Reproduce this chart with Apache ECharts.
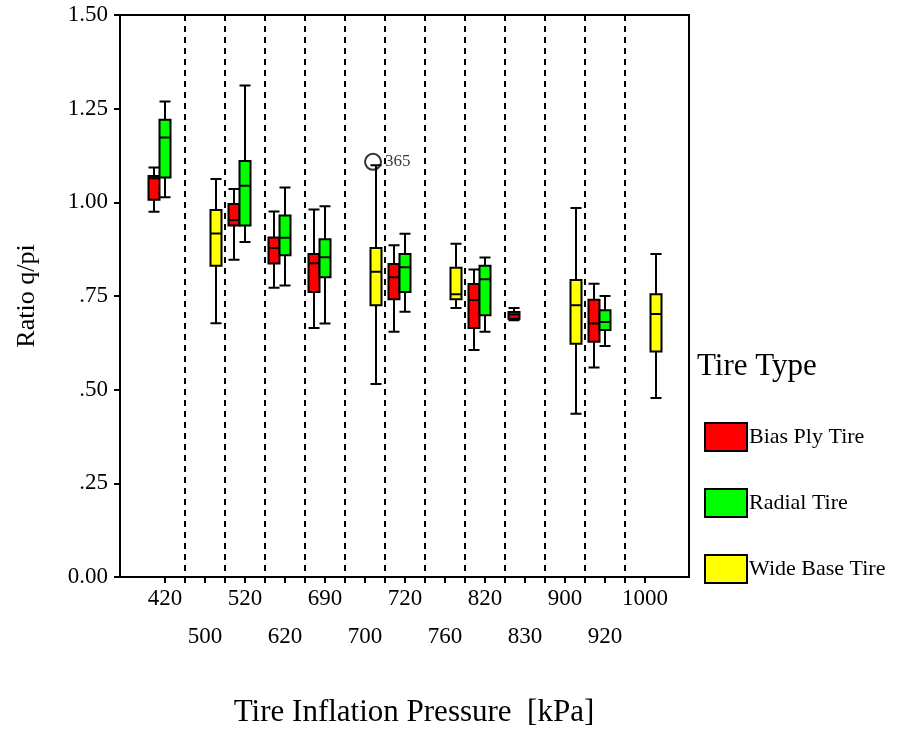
<!DOCTYPE html>
<html>
<head>
<meta charset="utf-8">
<script src="https://cdn.jsdelivr.net/npm/echarts@6/dist/echarts.min.js"></script>
<style>html,body{margin:0;padding:0;background:#fff}#c{width:899px;height:733px}</style>
</head>
<body>
<div id="c"></div>
<script>
// Categories: tire inflation pressure [kPa]
const categories = ['420','500','520','620','690','700','720','760','820','830','900','920','1000'];
// Box data: [min, Q1, median, Q3, max]; '-' where the tire type is absent
const E = ['-','-','-','-','-'];
const biasPly = [
  [0.972, 1.004, 1.062, 1.068, 1.091],
  E,
  [0.843, 0.935, 0.950, 0.993, 1.033],
  [0.768, 0.833, 0.875, 0.903, 0.973],
  [0.660, 0.757, 0.834, 0.859, 0.978],
  E,
  [0.650, 0.737, 0.796, 0.832, 0.882],
  E,
  [0.601, 0.660, 0.735, 0.778, 0.817],
  [0.681, 0.685, 0.696, 0.703, 0.714],
  E,
  [0.554, 0.623, 0.672, 0.736, 0.779],
  E
];
const radial = [
  [1.011, 1.064, 1.171, 1.219, 1.268],
  E,
  [0.891, 0.935, 1.042, 1.108, 1.311],
  [0.774, 0.855, 0.902, 0.962, 1.037],
  [0.672, 0.796, 0.850, 0.898, 0.987],
  E,
  [0.704, 0.757, 0.823, 0.859, 0.913],
  E,
  [0.650, 0.694, 0.791, 0.827, 0.849],
  E,
  E,
  [0.612, 0.655, 0.676, 0.708, 0.746],
  E
];
const wideBase = [
  E,
  [0.673, 0.827, 0.914, 0.977, 1.060],
  E,
  E,
  E,
  [0.510, 0.721, 0.811, 0.875, 1.097],
  E,
  [0.714, 0.737, 0.751, 0.822, 0.886],
  E,
  E,
  [0.430, 0.618, 0.721, 0.789, 0.982],
  E,
  [0.472, 0.597, 0.698, 0.751, 0.859]
];
// Outlier (case 365) of Wide Base Tire at 700 kPa
const outliers = [['700', 1.106, '365']];
const seriesNames = ['Bias Ply Tire', 'Radial Tire', 'Wide Base Tire'];
const seriesColors = ['#FF0000', '#00FF00', '#FFFF00'];
const yTickLabels = {0: '0.00', 0.25: '.25', 0.5: '.50', 0.75: '.75', 1: '1.00', 1.25: '1.25', 1.5: '1.50'};

const FONT = "'Liberation Serif', 'Times New Roman', serif";
const chart = echarts.init(document.getElementById('c'), null, {renderer: 'canvas'});

function boxSeries(name, data, color) {
  return {
    name: name, type: 'boxplot', xAxisIndex: 1, yAxisIndex: 1,
    data: data, boxWidth: [11, 11],
    itemStyle: {color: color, borderColor: '#000', borderWidth: 2},
    emphasis: {disabled: true}, animation: false, z: 3
  };
}

const option = {
  backgroundColor: '#fff',
  animation: false,
  textStyle: {fontFamily: FONT, color: '#000'},
  title: {
    text: 'Tire Type', left: 697, top: 351, padding: 0,
    textStyle: {fontFamily: FONT, fontSize: 31, fontWeight: 'normal', color: '#000'}
  },
  legend: {
    data: seriesNames.map(function (n, i) {
      return {name: n, itemStyle: {color: seriesColors[i], borderColor: '#000', borderWidth: 2}};
    }),
    orient: 'vertical', left: 704, top: 422, padding: 0,
    itemWidth: 42, itemHeight: 28, itemGap: 36, icon: 'rect',
    textStyle: {fontFamily: FONT, fontSize: 22, color: '#000', padding: [0, 0, 0, -3]},
    selectedMode: false
  },
  grid: [
    {left: 120, right: 210, top: 15, bottom: 156, show: true, borderColor: '#000', borderWidth: 2, backgroundColor: 'transparent'},
    {left: 145, right: 234, top: 15, bottom: 156},
    {left: 165, right: 254, top: 15, bottom: 156},
    {left: 185, right: 274, top: 15, bottom: 156}
  ],
  xAxis: [
    {gridIndex: 0, type: 'value', min: 0, max: 1, show: false},
    {
      gridIndex: 1, type: 'category', data: categories,
      axisLine: {show: false}, axisTick: {show: false}, splitLine: {show: false},
      axisLabel: {
        interval: 0, margin: 6, fontSize: 23, lineHeight: 38, color: '#000', fontFamily: FONT,
        formatter: function (v, i) { return i % 2 ? '\n' + v : v; }
      },
      name: 'Tire Inflation Pressure  [kPa]', nameLocation: 'middle', nameGap: 123,
      nameTextStyle: {fontFamily: FONT, fontSize: 31, color: '#000', padding: [0, 0, 0, 18]}
    },
    {
      gridIndex: 2, type: 'value', min: 0, max: 24, interval: 1,
      axisLine: {show: false}, axisLabel: {show: false}, splitLine: {show: false},
      axisTick: {show: true, length: 6, lineStyle: {color: '#000', width: 2}}
    },
    {
      gridIndex: 3, type: 'value', min: 0, max: 11, interval: 1,
      axisLine: {show: false}, axisLabel: {show: false}, axisTick: {show: false},
      splitLine: {show: true, lineStyle: {color: '#000', width: 2, type: [6, 5]}}
    }
  ],
  yAxis: [
    {
      gridIndex: 0, type: 'value', min: 0, max: 1.5, interval: 0.25,
      axisLine: {show: false}, splitLine: {show: false},
      axisTick: {show: true, length: 6, lineStyle: {color: '#000', width: 2}},
      axisLabel: {margin: 12, fontSize: 23, color: '#000', fontFamily: FONT,
        formatter: function (v) { return yTickLabels[v] !== undefined ? yTickLabels[v] : v; }},
      name: 'Ratio q/pi', nameLocation: 'middle', nameGap: 80,
      nameTextStyle: {fontFamily: FONT, fontSize: 26, color: '#000'}
    },
    {gridIndex: 1, type: 'value', min: 0, max: 1.5, show: false},
    {gridIndex: 2, type: 'value', min: 0, max: 1.5, show: false},
    {gridIndex: 3, type: 'value', min: 0, max: 1.5, show: false}
  ],
  series: [
    boxSeries(seriesNames[0], biasPly, seriesColors[0]),
    boxSeries(seriesNames[1], radial, seriesColors[1]),
    boxSeries(seriesNames[2], wideBase, seriesColors[2]),
    {
      name: 'Outliers', type: 'scatter', xAxisIndex: 1, yAxisIndex: 1,
      data: outliers.map(function (o) { return {value: [o[0], o[1]], name: o[2]}; }),
      symbol: 'circle', symbolSize: 16, symbolOffset: [8, 0],
      itemStyle: {color: 'transparent', borderColor: '#000', borderWidth: 2},
      label: {show: true, position: 'right', distance: 3, formatter: '{b}',
        fontFamily: FONT, fontSize: 17, color: '#000'},
      emphasis: {disabled: true}, z: 4
    }
  ]
};
chart.setOption(option);
</script>
</body>
</html>
